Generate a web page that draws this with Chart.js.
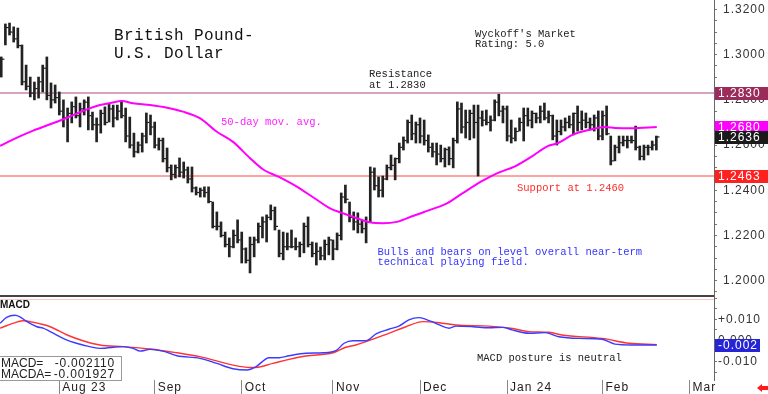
<!DOCTYPE html>
<html>
<head>
<meta charset="utf-8">
<script src="https://cdn.jsdelivr.net/npm/chart.js@4.4.0/dist/chart.umd.min.js"></script>
<style>
body { margin: 0; background: #fff; width: 768px; height: 394px; overflow: hidden; position: relative; font-family: "Liberation Mono", monospace; }
canvas { position: absolute; left: 0; }
#price { top: 0; }
#macd { top: 297px; }
.note { position: absolute; white-space: pre; font-size: 10.5px; line-height: 10.6px; color: #222; }
.title { font-size: 16px; line-height: 18.4px; letter-spacing: 0.4px; color: #111; }
.macdbox { position: absolute; left: -1px; top: 356px; width: 121px; height: 23px; border: 1px solid #999; background: #fff;
  font-family: "Liberation Sans", Arial, sans-serif; font-size: 12px; line-height: 10.6px; color: #222; }
.macdbox div { position: absolute; left: 1px; right: 0; white-space: pre; }
.macdbox span { position: absolute; right: 6px; top: 0; letter-spacing: 0.8px; }
.arrow { position: absolute; left: 757px; top: 384px; width: 0; height: 0; border-top: 4px solid transparent; border-bottom: 4px solid transparent; border-right: 5px solid #ff1a1a; }
.arrow::after { content: ""; position: absolute; left: 5px; top: -2px; width: 6px; height: 4px; background: #ff1a1a; }
</style>
</head>
<body>
<canvas id="price" width="768" height="297"></canvas>
<canvas id="macd" width="768" height="97"></canvas>

<div class="note title" style="left:114px; top:27px">British Pound-
U.S. Dollar</div>
<div class="note" style="left:475px; top:28.5px">Wyckoff's Market
Rating: 5.0</div>
<div class="note" style="left:369px; top:69px">Resistance
at 1.2830</div>
<div class="note" style="left:221px; top:117px; color:#ff22ff">50-day mov. avg.</div>
<div class="note" style="left:517px; top:183px; color:#ff2a2a">Support at 1.2460</div>
<div class="note" style="left:377.5px; top:246.5px; color:#3535ff">Bulls and bears on level overall near-term
technical playing field.</div>
<div class="note" style="left:477px; top:353px">MACD posture is neutral</div>
<div class="note" style="left:0; top:299.5px; font-family:'Liberation Sans',Arial,sans-serif; font-weight:bold; font-size:10px; line-height:10px; color:#111">MACD</div>
<div class="macdbox">
  <div style="top:1px">MACD=<span id="macdval"></span></div>
  <div style="top:11.6px">MACDA=<span id="sigval"></span></div>
</div>
<div class="arrow"></div>

<script>
// trading-day index 0 = 1 Aug 2023
const firstDay = -14;
const highs = [
  1.2990, 1.3136, 1.3140, 1.3123, 1.3118, 1.3043, 1.2954, 1.2901, 1.2879, 1.2901,
  1.2954, 1.2990, 1.2875, 1.2866, 1.2835, 1.2800, 1.2764, 1.2791, 1.2813, 1.2786,
  1.2800, 1.2813, 1.2746, 1.2720, 1.2755, 1.2769, 1.2786, 1.2777, 1.2777, 1.2795,
  1.2764, 1.2724, 1.2653, 1.2614, 1.2653, 1.2742, 1.2733, 1.2702, 1.2631, 1.2631,
  1.2587, 1.2512, 1.2512, 1.2543, 1.2525, 1.2503, 1.2503, 1.2415, 1.2410, 1.2415,
  1.2415, 1.2348, 1.2304, 1.2260, 1.2215, 1.2189, 1.2224,
  1.2269, 1.2215, 1.2145, 1.2193, 1.2193, 1.2255, 1.2282, 1.2291, 1.2335, 1.2326,
  1.2224, 1.2215, 1.2211, 1.2224, 1.2189, 1.2171, 1.2255, 1.2282, 1.2171, 1.2167,
  1.2149, 1.2180, 1.2193, 1.2180, 1.2211, 1.2388, 1.2423, 1.2348, 1.2304, 1.2300,
  1.2269, 1.2282, 1.2503, 1.2499, 1.2459, 1.2463, 1.2512, 1.2556, 1.2543, 1.2609,
  1.2636, 1.2711, 1.2733, 1.2702, 1.2720, 1.2711, 1.2645, 1.2609, 1.2609, 1.2600,
  1.2587, 1.2592, 1.2631, 1.2791, 1.2786, 1.2755,
  1.2755, 1.2777, 1.2777, 1.2751, 1.2755, 1.2729, 1.2800, 1.2825, 1.2773, 1.2773,
  1.2711, 1.2676, 1.2720, 1.2764, 1.2764, 1.2751, 1.2742, 1.2773, 1.2786, 1.2751,
  1.2733, 1.2711, 1.2711, 1.2720, 1.2729, 1.2742, 1.2773, 1.2751, 1.2742, 1.2720,
  1.2733, 1.2751, 1.2751, 1.2773, 1.2640, 1.2600, 1.2640, 1.2640, 1.2640, 1.2640,
  1.2684, 1.2596, 1.2600, 1.2600, 1.2618, 1.2640
];
const lows = [
  1.2901, 1.3043, 1.3087, 1.3056, 1.3030, 1.2866, 1.2844, 1.2813, 1.2800, 1.2808,
  1.2835, 1.2800, 1.2764, 1.2786, 1.2733, 1.2680, 1.2614, 1.2698, 1.2720, 1.2680,
  1.2733, 1.2667, 1.2667, 1.2614, 1.2653, 1.2689, 1.2702, 1.2680, 1.2711, 1.2720,
  1.2614, 1.2587, 1.2547, 1.2565, 1.2569, 1.2609, 1.2645, 1.2587, 1.2578, 1.2525,
  1.2481, 1.2446, 1.2454, 1.2459, 1.2454, 1.2432, 1.2392, 1.2379, 1.2370, 1.2370,
  1.2344, 1.2233, 1.2224, 1.2193, 1.2149, 1.2105, 1.2145,
  1.2167, 1.2078, 1.2078, 1.2034, 1.2105, 1.2167, 1.2189, 1.2171, 1.2269, 1.2224,
  1.2105, 1.2092, 1.2136, 1.2145, 1.2136, 1.2105, 1.2123, 1.2149, 1.2105, 1.2069,
  1.2092, 1.2092, 1.2114, 1.2092, 1.2136, 1.2180, 1.2344, 1.2260, 1.2224, 1.2211,
  1.2211, 1.2167, 1.2260, 1.2401, 1.2370, 1.2370, 1.2446, 1.2490, 1.2446, 1.2521,
  1.2578, 1.2609, 1.2623, 1.2609, 1.2609, 1.2600, 1.2569, 1.2547, 1.2512, 1.2525,
  1.2503, 1.2512, 1.2499, 1.2609, 1.2653, 1.2631,
  1.2623, 1.2631, 1.2463, 1.2684, 1.2689, 1.2662, 1.2707, 1.2729, 1.2698, 1.2618,
  1.2609, 1.2618, 1.2662, 1.2618, 1.2684, 1.2676, 1.2698, 1.2698, 1.2711, 1.2698,
  1.2623, 1.2600, 1.2645, 1.2662, 1.2676, 1.2645, 1.2662, 1.2667, 1.2676, 1.2667,
  1.2662, 1.2623, 1.2623, 1.2645, 1.2512, 1.2530, 1.2565, 1.2596, 1.2587, 1.2609,
  1.2578, 1.2534, 1.2534, 1.2556, 1.2578, 1.2578
];
const closes = [
  1.2980, 1.3120, 1.3100, 1.3070, 1.3040, 1.2880, 1.2860, 1.2830, 1.2850, 1.2880,
  1.2940, 1.2820, 1.2800, 1.2810, 1.2750, 1.2720, 1.2740, 1.2770, 1.2730, 1.2760,
  1.2790, 1.2730, 1.2690, 1.2690, 1.2740, 1.2700, 1.2760, 1.2720, 1.2750, 1.2730,
  1.2640, 1.2600, 1.2570, 1.2600, 1.2640, 1.2700, 1.2680, 1.2600, 1.2620, 1.2540,
  1.2500, 1.2470, 1.2500, 1.2480, 1.2490, 1.2450, 1.2410, 1.2390, 1.2400, 1.2390,
  1.2350, 1.2240, 1.2240, 1.2200, 1.2160, 1.2150, 1.2200,
  1.2180, 1.2140, 1.2090, 1.2160, 1.2180, 1.2240, 1.2260, 1.2280, 1.2310, 1.2240,
  1.2120, 1.2150, 1.2150, 1.2150, 1.2150, 1.2160, 1.2240, 1.2160, 1.2120, 1.2130,
  1.2110, 1.2160, 1.2180, 1.2140, 1.2200, 1.2370, 1.2360, 1.2280, 1.2260, 1.2250,
  1.2230, 1.2260, 1.2480, 1.2420, 1.2400, 1.2450, 1.2500, 1.2510, 1.2540, 1.2590,
  1.2620, 1.2700, 1.2650, 1.2690, 1.2640, 1.2620, 1.2590, 1.2570, 1.2560, 1.2540,
  1.2580, 1.2540, 1.2620, 1.2760, 1.2680, 1.2700,
  1.2740, 1.2700, 1.2720, 1.2710, 1.2700, 1.2710, 1.2790, 1.2750, 1.2760, 1.2640,
  1.2630, 1.2660, 1.2700, 1.2730, 1.2710, 1.2740, 1.2720, 1.2750, 1.2720, 1.2730,
  1.2640, 1.2660, 1.2680, 1.2700, 1.2690, 1.2740, 1.2700, 1.2710, 1.2700, 1.2690,
  1.2720, 1.2640, 1.2730, 1.2650, 1.2530, 1.2590, 1.2610, 1.2620, 1.2620, 1.2620,
  1.2590, 1.2550, 1.2590, 1.2590, 1.2600, 1.2636
];

const maDays = [-14.3, -10.2, -6.3, -2.2, 1.9, 5.7, 9.8, 12.2, 15.1, 17.8, 21.9, 26, 29.8, 33.9, 38, 41.9,
  46, 49.1, 53.2, 57.3, 61.2, 65.3, 68.4, 71.8, 74.9, 78.1, 81.4, 85.3, 89.4, 93.5, 97.3,
  101.9, 105.8, 109.9, 114, 117.8, 120.3, 123.9, 128, 131.6, 134, 138.1, 144.1];
const maValues = [1.2596, 1.2633, 1.2664, 1.2692, 1.2721, 1.2751, 1.2777, 1.2785, 1.2795, 1.2785, 1.2777, 1.2765, 1.2748, 1.2719, 1.2659, 1.2614,
  1.2542, 1.2493, 1.2457, 1.2416, 1.2369, 1.2320, 1.2298, 1.2276, 1.2258, 1.2254, 1.2260, 1.2286, 1.2313, 1.2342, 1.2387,
  1.2440, 1.2477, 1.2506, 1.2550, 1.2595, 1.2609, 1.2646, 1.2668, 1.2680, 1.2676, 1.2674, 1.2680];

const macdDays = [-14.3, -12.7, -10.7, -9.5, -7.8, -5.4, -3.9, -2.2, 1.9, 5.7, 9.8, 15.4, 17.8, 19.5, 21.9, 25, 28.4,
  33.9, 38, 41.9, 45.3, 47.4, 50.6, 53, 55.4, 59.5, 63.6, 66.7, 68.7, 70.8, 74, 76.4, 79.5, 81.9, 84.3, 86.7,
  88.4, 90.8, 94, 95.7, 99.8, 103.6, 107, 109.2, 113.3, 117.1, 120.5, 125.3, 130.9, 134, 138.1, 144.1];
const macdValues = [0.0081, 0.0109, 0.0119, 0.0112, 0.0089, 0.0065, 0.0058, 0.0042, 0.0002, -0.0021, -0.0037, -0.0029, -0.0037, -0.0050, -0.0042, -0.0050, -0.0072,
  -0.0084, -0.0108, -0.0133, -0.0139, -0.0124, -0.0081, -0.0081, -0.0072, -0.0060, -0.0058, -0.0048, -0.0013, -0.0001, -0.0001, 0.0031, 0.0053, 0.0068, 0.0097, 0.0108,
  0.0100, 0.0081, 0.0058, 0.0068, 0.0065, 0.0060, 0.0062, 0.0050, 0.0034, 0.0037, 0.0018, 0.0010, 0.0006, -0.0017, -0.0021, -0.002110];
const signalDays = [-14.3, -11.2, -8.8, -6.3, -2.2, 1.9, 5.7, 9.8, 15.4, 21.9, 28.4, 33.9, 41.9, 46, 47.4, 51.5, 55.4,
  59.5, 66, 69.1, 71.5, 79.5, 83.6, 87.7, 91.6, 95.7, 103.6, 108.9, 113.3, 118.1, 121.2, 130.9, 137.4, 144.1];
const signalValues = [0.0058, 0.0081, 0.0093, 0.0086, 0.0065, 0.0026, -0.0001, -0.0021, -0.0029, -0.0040, -0.0058, -0.0076, -0.0116, -0.0127, -0.0127, -0.0108, -0.0089,
  -0.0073, -0.0058, -0.0032, -0.0021, 0.0034, 0.0065, 0.0089, 0.0084, 0.0073, 0.0068, 0.0058, 0.0042, 0.0039, 0.0026, 0.0010, -0.0013, -0.001927];

const monthStarts = [0, 23, 44, 66, 87, 108, 131, 152];
const monthLabels = ['Aug 23', 'Sep', 'Oct', 'Nov', 'Dec', 'Jan 24', 'Feb', 'Mar'];
const priceLabels = [1.20, 1.22, 1.24, 1.26, 1.28, 1.30, 1.32];
const macdLabels = [-0.01, 0, 0.01];
const resistance = 1.2830;
const support = 1.2463;

const dayMin = -14.3, dayMax = 157.9;
const priceMin = 1.1932, priceMax = 1.3242;
const macdMin = -0.01863, macdMax = 0.02052;

document.getElementById('macdval').textContent = macdValues[macdValues.length - 1].toFixed(6);
document.getElementById('sigval').textContent = signalValues[signalValues.length - 1].toFixed(6);

const pairs = (xs, ys) => xs.map((x, i) => ({x: x, y: ys[i]}));

// letter spacing like the original bitmap labels
const spacing = {
    id: 'spacing',
    beforeDraw(chart) { chart.ctx.letterSpacing = '1px'; }
};

function tag(ctx, area, y, text, color, width) {
    ctx.save();
    ctx.fillStyle = color;
    ctx.fillRect(area.right + 1, Math.round(y) - 6, width, 13);
    ctx.fillStyle = '#fff';
    ctx.font = '12px "Liberation Sans", Arial, sans-serif';
    ctx.letterSpacing = '1px';
    ctx.textBaseline = 'middle';
    ctx.fillText(text, area.right + 4, Math.round(y) + 0.5);
    ctx.restore();
}

const priceTags = {
    id: 'priceTags',
    afterDraw(chart) {
        const y = chart.scales.y;
        const area = chart.chartArea;
        const lastMa = maValues[maValues.length - 1];
        const lastClose = closes[closes.length - 1];
        tag(chart.ctx, area, y.getPixelForValue(resistance), resistance.toFixed(4), '#9b2b5b', 54);
        tag(chart.ctx, area, y.getPixelForValue(lastMa), lastMa.toFixed(4), '#ff00ff', 54);
        tag(chart.ctx, area, y.getPixelForValue(lastClose), lastClose.toFixed(4), '#1a1a1a', 54);
        tag(chart.ctx, area, y.getPixelForValue(support), support.toFixed(4), '#ff2020', 54);
    }
};

const macdTags = {
    id: 'macdTags',
    beforeDatasetsDraw(chart) {
        const a = chart.chartArea;
        const ctx = chart.ctx;
        ctx.save();
        ctx.strokeStyle = '#ffc4c4';
        ctx.lineWidth = 1;
        ctx.beginPath();
        ctx.moveTo(a.left, a.top + 2.5);
        ctx.lineTo(a.right, a.top + 2.5);
        ctx.stroke();
        ctx.restore();
    },
    afterDraw(chart) {
        const last = macdValues[macdValues.length - 1];
        tag(chart.ctx, chart.chartArea, chart.scales.y.getPixelForValue(last), last.toFixed(3), '#2525d5', 45);
    }
};

new Chart(document.getElementById('price'), {
    type: 'bar',
    data: {
        datasets: [{
            type: 'line',
            data: pairs(maDays, maValues),
            borderColor: '#ff00ff',
            borderWidth: 2,
            pointRadius: 0,
            cubicInterpolationMode: 'monotone'
        }, {
            type: 'scatter',
            data: closes.map((c, i) => ({x: firstDay + i + 0.4, y: c})),
            pointStyle: 'line',
            pointRadius: 1.5,
            borderColor: '#222',
            borderWidth: 1.2
        }, {
            type: 'bar',
            data: highs.map((h, i) => ({x: firstDay + i, y: [lows[i], h]})),
            backgroundColor: '#222',
            barThickness: 2,
            grouped: false
        }, {
            type: 'line',
            data: [{x: dayMin, y: resistance}, {x: dayMax, y: resistance}],
            borderColor: '#d7a3bf',
            borderWidth: 2,
            pointRadius: 0
        }, {
            type: 'line',
            data: [{x: dayMin, y: support}, {x: dayMax, y: support}],
            borderColor: '#ffa3a3',
            borderWidth: 2,
            pointRadius: 0
        }]
    },
    options: {
        responsive: false,
        animation: false,
        layout: { autoPadding: false, padding: { bottom: 1 } },
        plugins: { legend: { display: false }, tooltip: { enabled: false } },
        scales: {
            x: {
                type: 'linear',
                min: dayMin,
                max: dayMax,
                offset: false,
                ticks: { display: false },
                grid: { display: false },
                border: { color: '#444', width: 2 },
                afterFit(s) { s.height = 0; s.paddingLeft = 0; s.paddingRight = 0; }
            },
            y: {
                position: 'right',
                min: priceMin,
                max: priceMax,
                afterBuildTicks(s) {
                    const t = [];
                    for (let v = 1.195; v < 1.3241; v += 0.005) t.push({value: Math.round(v * 1000) / 1000});
                    s.ticks = t;
                },
                ticks: {
                    autoSkip: false,
                    padding: 6,
                    color: '#333',
                    font: { family: 'Liberation Sans', size: 12 },
                    callback: v => priceLabels.some(p => Math.abs(p - v) < 1e-6) ? v.toFixed(4) : ''
                },
                grid: { drawOnChartArea: false, tickLength: 3, color: '#777' },
                border: { color: '#666' },
                afterFit(s) { s.width = 54; s.paddingTop = 0; s.paddingBottom = 0; }
            }
        }
    },
    plugins: [spacing, priceTags]
});

new Chart(document.getElementById('macd'), {
    type: 'line',
    data: {
        datasets: [{
            data: pairs(macdDays, macdValues),
            borderColor: '#3b3bff',
            borderWidth: 1.4,
            pointRadius: 0,
            cubicInterpolationMode: 'monotone'
        }, {
            data: pairs(signalDays, signalValues),
            borderColor: '#ff3333',
            borderWidth: 1.4,
            pointRadius: 0,
            cubicInterpolationMode: 'monotone'
        }]
    },
    options: {
        responsive: false,
        animation: false,
        layout: { autoPadding: false },
        plugins: { legend: { display: false }, tooltip: { enabled: false } },
        scales: {
            x: {
                type: 'linear',
                min: dayMin,
                max: dayMax,
                afterBuildTicks(s) { s.ticks = monthStarts.map(v => ({value: v})); },
                ticks: {
                    autoSkip: false,
                    maxRotation: 0,
                    align: 'start',
                    labelOffset: 3,
                    padding: -13.5,
                    color: '#222',
                    font: { family: 'Liberation Sans', size: 12 },
                    callback: (v, i) => monthLabels[i]
                },
                grid: { drawOnChartArea: false, tickLength: 14, color: '#888' },
                border: { display: false },
                afterFit(s) { s.height = 14; s.paddingLeft = 0; s.paddingRight = 0; }
            },
            y: {
                position: 'right',
                min: macdMin,
                max: macdMax,
                afterBuildTicks(s) {
                    const t = [];
                    for (let v = -0.015; v < 0.0205; v += 0.005) t.push({value: Math.round(v * 1000) / 1000});
                    s.ticks = t;
                },
                ticks: {
                    autoSkip: false,
                    padding: 1,
                    color: '#333',
                    font: { family: 'Liberation Sans', size: 12 },
                    callback: v => macdLabels.some(p => Math.abs(p - v) < 1e-9) ? (v > 0 ? '+' : '') + v.toFixed(3) : ''
                },
                grid: { drawOnChartArea: false, tickLength: 3, color: '#777' },
                border: { color: '#666' },
                afterFit(s) { s.width = 54; s.paddingTop = 0; s.paddingBottom = 0; }
            }
        }
    },
    plugins: [spacing, macdTags]
});
</script>
</body>
</html>
